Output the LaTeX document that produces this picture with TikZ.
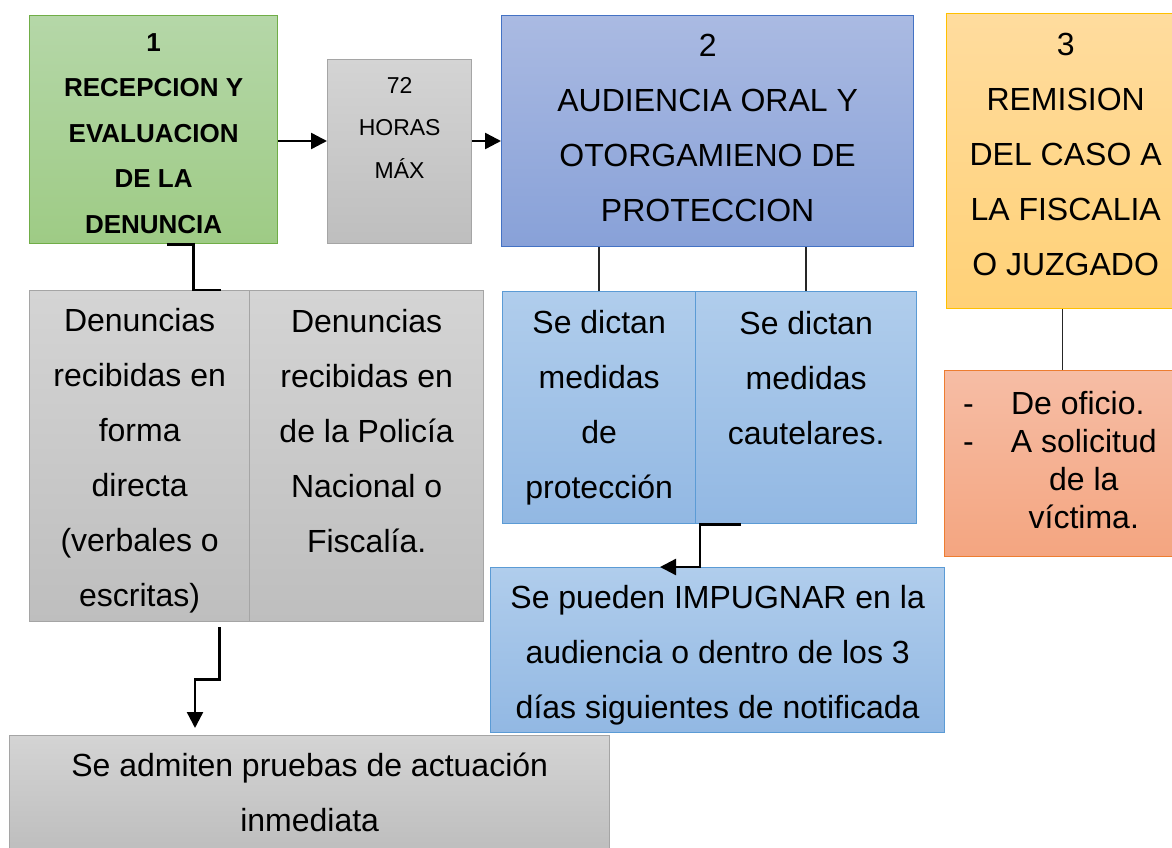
\documentclass[tikz,border=0pt]{standalone}
\usepackage{fontspec}
\setmainfont{Liberation Sans}
\usetikzlibrary{arrows.meta}

\definecolor{greentop}{HTML}{B5D7A8}
\definecolor{greenbot}{HTML}{9ECB85}
\definecolor{greenline}{HTML}{70AD47}
\definecolor{graytop}{HTML}{D4D4D4}
\definecolor{graybot}{HTML}{BEBEBE}
\definecolor{grayline}{HTML}{A5A5A5}
\definecolor{bluetop}{HTML}{AABAE2}
\definecolor{bluebot}{HTML}{88A1D8}
\definecolor{blueline}{HTML}{4472C4}
\definecolor{orangetop}{HTML}{FFDC9E}
\definecolor{orangebot}{HTML}{FFD177}
\definecolor{orangeline}{HTML}{FFC000}
\definecolor{salmontop}{HTML}{F6BDA5}
\definecolor{salmonbot}{HTML}{F4A580}
\definecolor{salmonline}{HTML}{ED7D31}
\definecolor{skytop}{HTML}{B0CDEC}
\definecolor{skybot}{HTML}{92B8E3}
\definecolor{skyline}{HTML}{5B9BD5}

\begin{document}
\begin{tikzpicture}[x=1pt, y=-1pt,
  box/.style={rectangle, draw, line width=1.3pt, inner sep=0pt, anchor=north west},
  greenbox/.style={box, draw=greenline, top color=greentop, bottom color=greenbot},
  graybox/.style={box, draw=grayline, top color=graytop, bottom color=graybot},
  bluebox/.style={box, draw=blueline, top color=bluetop, bottom color=bluebot},
  orangebox/.style={box, draw=orangeline, top color=orangetop, bottom color=orangebot},
  salmonbox/.style={box, draw=salmonline, top color=salmontop, bottom color=salmonbot},
  skybox/.style={box, draw=skyline, top color=skytop, bottom color=skybot},
  txt/.style={inner sep=0pt, align=center, font=\fontsize{32}{55}\selectfont},
  toptext/.style={txt, anchor=north},
  arr/.style={line width=2.4pt, -{Triangle[length=16pt,width=16pt]}},
  link/.style={line width=1.4pt, black!85}]
  \useasboundingbox (0,0) rectangle (1172,848);
  \clip (0,0) rectangle (1172,848);

  % step 1
  \node[greenbox, minimum width=248, minimum height=228] (rec) at (29,15) {};
  \node[txt, font=\bfseries\fontsize{26}{45.5}\selectfont] (rect) at ([yshift=-4pt]rec.center)
    {1\\RECEPCION Y\\EVALUACION\\DE LA\\DENUNCIA};
  \node[graybox, minimum width=144, minimum height=184] (h72) at (327,59) {};
  \node[toptext, font=\fontsize{23}{42.5}\selectfont] (h72t) at ([yshift=-18pt]h72.north) {72\\HORAS\\MÁX};

  % step 2
  \node[bluebox, minimum width=412, minimum height=231] (aud) at (501,15) {};
  \node[txt] (audt) at ([yshift=3pt]aud.center) {2\\AUDIENCIA ORAL Y\\OTORGAMIENO DE\\PROTECCION};

  % step 3
  \node[orangebox, minimum width=238, minimum height=295] (rem) at (946,13) {};
  \node[txt] (remt) at ([yshift=7pt]rem.center) {3\\REMISION\\DEL CASO A\\LA FISCALIA\\O JUZGADO};
  \node[salmonbox, minimum width=238, minimum height=186] (ofi) at (944,370) {};
  \node[anchor=west, inner sep=0pt, font=\fontsize{32}{38}\selectfont] (ofit) at (963,464)
    {\begin{tabular}{@{}l@{\hspace{37pt}}c@{}}
      - & De oficio.\kern12pt\\
      - & A solicitud\\
        & de la\\
        & víctima.
    \end{tabular}};

  % denuncias
  \node[graybox, minimum width=220, minimum height=331] (dl) at (29,290) {};
  \node[txt] (dlt) at ([yshift=-5pt]dl.center) {Denuncias\\recibidas en\\forma\\directa\\(verbales o\\escritas)};
  \node[graybox, minimum width=234, minimum height=331] (dr) at (249,290) {};
  \node[toptext] (drt) at ([yshift=-19pt]dr.north) {Denuncias\\recibidas en\\de la Policía\\Nacional o\\Fiscalía.};
  \node[graybox, minimum width=600, minimum height=114] (adm) at (9,735) {};
  \node[txt] (admt) at (adm.center) {Se admiten pruebas de actuación\\inmediata};

  % medidas
  \node[skybox, minimum width=193, minimum height=232] (sp) at (502,291) {};
  \node[txt] (spt) at (sp.center) {Se dictan\\medidas\\de\\protección};
  \node[skybox, minimum width=221, minimum height=232] (sc) at (695,291) {};
  \node[toptext] (sct) at ([yshift=-20pt]sc.north) {Se dictan\\medidas\\cautelares.};
  \node[skybox, minimum width=454, minimum height=165] (imp) at (490,567) {};
  \node[txt] (impt) at ([yshift=-5pt]imp.center)
    {Se pueden IMPUGNAR en la\\audiencia o dentro de los 3\\días siguientes de notificada};

  % connectors
  \coordinate (lvl) at (0,141);
  \draw[arr] (rec.east |- lvl) -- (h72.west |- lvl);
  \draw[arr] (h72.east |- lvl) -- (aud.west |- lvl);
  \draw[link] (aud.south -| sp.north) -- (sp.north);
  \draw[link] (aud.south -| sc.north) -- (sc.north);
  \draw[link] ([xshift=-3pt]rem.south) -- ([xshift=-3pt]rem.south |- ofi.north);
  \draw[line width=2.4pt] ([xshift=13pt]rec.south) -- ++(27,0) |- ([xshift=-29pt]dl.north east);
  \draw[arr] ([xshift=46pt]sc.south west) -- ++(-41,0) |- ([xshift=170pt]imp.north west);
  \draw[arr] ([shift={(-31,5)}]dl.south east) -- ++(0,52) -| ([shift={(186,-7)}]adm.north west);
\end{tikzpicture}
\end{document}
